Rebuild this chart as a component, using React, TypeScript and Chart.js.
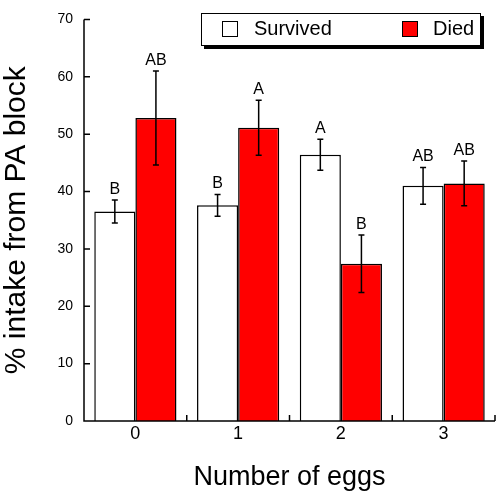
import React, { useEffect, useRef } from "react";
import { Chart, registerables } from "chart.js";

Chart.register(...registerables);

const categories = ["0", "1", "2", "3"];
const survivedValues = [36.5, 37.6, 46.4, 41.0];
const survivedErrors = [2.0, 1.9, 2.7, 3.2];
const survivedLetters = ["B", "B", "A", "AB"];
const diedValues = [52.8, 51.1, 27.4, 41.4];
const diedErrors = [8.2, 4.8, 5.0, 3.9];
const diedLetters = ["AB", "A", "B", "AB"];
const yMin = 0;
const yMax = 70;
const yStep = 10;

const FONT = "'Liberation Sans', Arial, Helvetica, sans-serif";

const errorPlugin = {
  id: "errorLetters",
  afterDatasetsDraw(chart: any) {
    const ctx = chart.ctx;
    const y = chart.scales.y;
    const errs = [survivedErrors, diedErrors];
    const letters = [survivedLetters, diedLetters];
    ctx.save();
    chart.data.datasets.forEach((ds: any, di: number) => {
      const meta = chart.getDatasetMeta(di);
      meta.data.forEach((bar: any, i: number) => {
        const v = ds.data[i];
        const e = errs[di][i];
        const top = y.getPixelForValue(v + e);
        const bot = y.getPixelForValue(v - e);
        const x = bar.x;
        ctx.strokeStyle = "#000";
        ctx.lineWidth = 1.5;
        ctx.beginPath();
        ctx.moveTo(x, top);
        ctx.lineTo(x, bot);
        ctx.moveTo(x - 3, top);
        ctx.lineTo(x + 3, top);
        ctx.moveTo(x - 3, bot);
        ctx.lineTo(x + 3, bot);
        ctx.stroke();
        ctx.fillStyle = "#000";
        ctx.font = `16px ${FONT}`;
        ctx.textAlign = "center";
        ctx.textBaseline = "alphabetic";
        ctx.fillText(letters[di][i], x, top - 6);
      });
    });
    // axes
    const area = chart.chartArea;
    ctx.strokeStyle = "#000";
    ctx.lineWidth = 1.5;
    ctx.beginPath();
    ctx.moveTo(area.left, area.top);
    ctx.lineTo(area.left, area.bottom);
    ctx.lineTo(area.right, area.bottom);
    for (let v = yMin; v <= yMax; v += yStep) {
      const py = y.getPixelForValue(v);
      ctx.moveTo(area.left, py);
      ctx.lineTo(area.left + 6, py);
    }
    const xs = chart.scales.x;
    for (let i = 0; i < categories.length; i++) {
      const px = xs.getPixelForValue(i) + (xs.getPixelForValue(1) - xs.getPixelForValue(0)) / 2;
      ctx.moveTo(px, area.bottom);
      ctx.lineTo(px, area.bottom - 6);
    }
    ctx.stroke();

    // legend
    const lx = 201, ly = 13, lw = 280, lh = 33;
    ctx.fillStyle = "#000";
    ctx.fillRect(lx + 3, ly + 3, lw, lh);
    ctx.fillStyle = "#fff";
    ctx.fillRect(lx, ly, lw, lh);
    ctx.lineWidth = 1;
    ctx.strokeStyle = "#000";
    ctx.strokeRect(lx + 0.5, ly + 0.5, lw - 1, lh - 1);
    const items = [
      { box: 222, text: 254 },
      { box: 402, text: 433 },
    ];
    chart.data.datasets.forEach((ds: any, di: number) => {
      const it = items[di];
      ctx.fillStyle = ds.backgroundColor;
      ctx.fillRect(it.box, 21, 16, 16);
      ctx.lineWidth = 1;
      ctx.strokeStyle = "#000";
      ctx.strokeRect(it.box + 0.5, 21.5, 15, 15);
      ctx.fillStyle = "#000";
      ctx.font = `20px ${FONT}`;
      ctx.textAlign = "left";
      ctx.textBaseline = "middle";
      ctx.fillText(ds.label, it.text, 29.5);
    });
    ctx.restore();
  },
};

export default function App() {
  const ref = useRef<HTMLCanvasElement>(null);
  useEffect(() => {
    if (!ref.current) return;
    const chart = new Chart(ref.current, {
      type: "bar",
      data: {
        labels: categories,
        datasets: [
          {
            label: "Survived",
            data: survivedValues,
            backgroundColor: "#ffffff",
            borderColor: "#000000",
            borderWidth: 1.5,
            borderSkipped: "start",
            categoryPercentage: 0.8,
            barPercentage: 1.0,
          },
          {
            label: "Died",
            data: diedValues,
            backgroundColor: "#ff0000",
            borderColor: "#000000",
            borderWidth: 1.5,
            borderSkipped: "start",
            categoryPercentage: 0.8,
            barPercentage: 1.0,
          },
        ],
      },
      options: {
        responsive: false,
        animation: false,
        layout: { padding: { top: 11, right: 3, left: 0, bottom: 0 } },
        plugins: {
          legend: { display: false },
          tooltip: { enabled: false },
        },
        scales: {
          x: {
            grid: { display: false, drawTicks: false },
            border: { display: false },
            ticks: { color: "#000", font: { family: FONT, size: 18 }, padding: 2 },
            title: {
              display: true,
              text: "Number of eggs",
              color: "#000",
              font: { family: FONT, size: 27 },
              padding: { top: 0, bottom: 2 },
            },
            afterFit: (s: any) => {
              s.height = 75;
            },
          },
          y: {
            min: yMin,
            max: yMax,
            grid: { display: false, drawTicks: false },
            border: { display: false },
            ticks: { stepSize: yStep, color: "#000", font: { family: FONT, size: 14 }, padding: 11 },
            title: {
              display: true,
              text: "% intake from PA block",
              color: "#000",
              font: { family: FONT, size: 30, lineHeight: 1.1 },
              padding: { top: 0, bottom: 0 },
            },
            afterFit: (s: any) => {
              s.width = 84;
            },
          },
        },
      },
      plugins: [errorPlugin],
    });
    return () => chart.destroy();
  }, []);
  return (
    <div style={{ position: "fixed", left: 0, top: 0, width: 498, height: 496, background: "#fff" }}>
      <canvas ref={ref} width={498} height={496} />
    </div>
  );
}
